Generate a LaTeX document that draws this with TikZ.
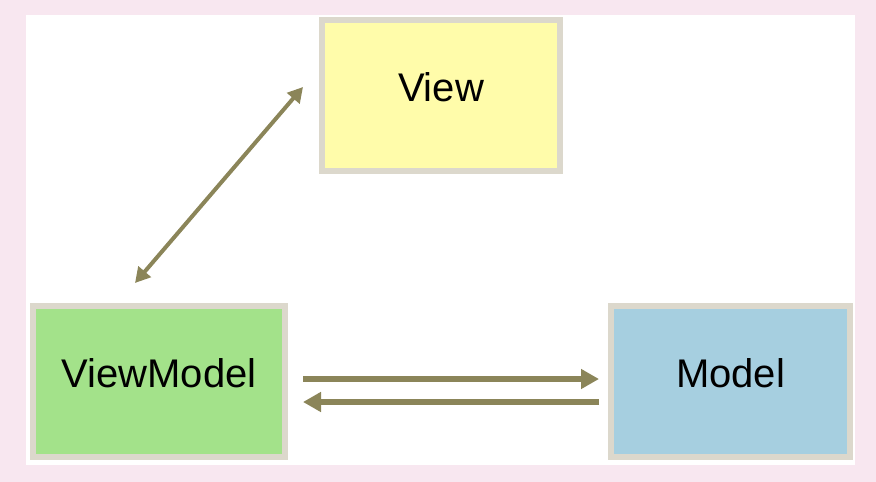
\documentclass[tikz,border=0pt]{standalone}
\usepackage{fontspec}
\setmainfont{Liberation Sans}
\usetikzlibrary{arrows.meta}
\definecolor{bgpink}{HTML}{F8E7F0}
\definecolor{boxedge}{HTML}{DCD8CC}
\definecolor{viewfill}{HTML}{FFFCAA}
\definecolor{vmfill}{HTML}{A3E28A}
\definecolor{mfill}{HTML}{A6CFE0}
\definecolor{arrowc}{HTML}{8B8559}
\begin{document}
\begin{tikzpicture}[x=1pt,y=-1pt,
  box/.style={draw=boxedge, line width=6pt, minimum height=151pt, inner sep=0pt, outer sep=0pt,
    font=\fontsize{40}{44}\selectfont, text height=28pt, text depth=16pt},
  harr/.style={draw=arrowc, line width=6pt, -{Triangle[length=18pt,width=19pt]}},
  darr/.style={draw=arrowc, line width=4pt, {Triangle[length=15pt,width=16pt]}-{Triangle[length=15pt,width=16pt]}}]
\fill[bgpink] (0,0) rectangle (876,482);
\useasboundingbox (0,0) rectangle (876,482);
\fill[white] (26,15) rectangle (855,465);
\node[box, fill=viewfill, minimum width=238pt] (view) at (441,95.5) {View};
\node[box, fill=vmfill, minimum width=252pt] (vm) at (159,381.5) {ViewModel};
\node[box, fill=mfill, minimum width=239pt] (model) at (730.5,381.5) {Model};
\draw[darr] ([xshift=-24pt,yshift=23pt]vm.north) -- ([xshift=-19pt,yshift=8.5pt]view.west);
\draw[harr] ([xshift=18pt,yshift=2.5pt]vm.east) -- ([xshift=-12pt,yshift=2.5pt]model.west);
\draw[harr] ([xshift=-12pt,yshift=-20.5pt]model.west) -- ([xshift=18pt,yshift=-20.5pt]vm.east);
\end{tikzpicture}
\end{document}
